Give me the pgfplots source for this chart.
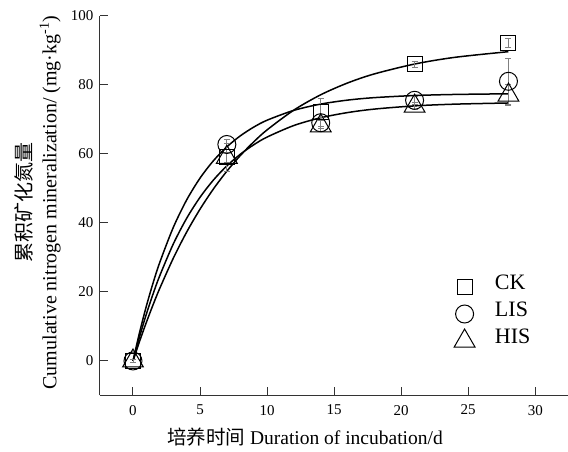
\documentclass[border=0pt]{standalone}
\usepackage{pgfplots}
\pgfplotsset{compat=1.18}
\usepackage{fontspec}
\setmainfont{Liberation Serif}
\newfontfamily\cjk{Noto Sans CJK SC}

\pgfplotstableread{
x y e
0 0 0.5
7 59 1.5
14 72 4
21 85.9 1
28 92.1 1.2
}\ckdata
\pgfplotstableread{
x y e
0 0 0.5
7 62.7 1.5
14 69 1.5
21 75.5 1.2
28 81 6.7
}\lisdata
\pgfplotstableread{
x y e
0 0 0.5
7 59 4
14 68.1 1.5
21 73.8 1
28 77 3
}\hisdata

\begin{document}
\begin{tikzpicture}
\useasboundingbox (0,0) rectangle (568pt,452pt);
\begin{axis}[
  at={(100pt,56.5pt)}, anchor=south west,
  width=468pt, height=379.8pt, scale only axis,
  xmin=-2.46, xmax=32.44, ymin=-10, ymax=100,
  axis x line=bottom, axis y line=left,
  axis line style={-, line width=1pt, black!80},
  xtick={0,5,...,30}, ytick={0,20,...,100},
  tick align=inside, major tick length=8pt,
  tick style={line width=1pt, black!80},
  /pgf/number format/assume math mode=true,
  ticklabel style={font=\fontsize{15}{16}\selectfont},
  xticklabel style={yshift=-6pt},
  yticklabel style={xshift=-3pt},
  xlabel={{\cjk 培养时间} Duration of incubation/d},
  xlabel style={at={(axis description cs:0.438,-0.109)}, anchor=center, font=\fontsize{19.5}{22}\selectfont},
  ylabel={{\cjk 累积矿化氮量}\\Cumulative nitrogen mineralization/ (mg·kg\textsuperscript{-1})},
  ylabel style={at={(axis description cs:-0.1335,0.508)}, anchor=center, rotate=0, align=center, font=\fontsize{20}{25}\selectfont},
  legend style={draw=none, fill=none, at={(0.75,0.327)}, anchor=north west,
    font=\fontsize{22}{26}\selectfont, row sep=0pt,
    nodes={inner ysep=0pt, text height=16pt, text depth=11pt},
    /tikz/every odd column/.append style={column sep=18pt}},
  legend cell align=left,
  legend image code/.code={\draw[#1] plot coordinates {(0.3cm,0cm)};},
  error bars/y dir=both, error bars/y explicit,
  error bars/error bar style={black!50, line width=0.8pt},
  error bars/error mark options={rotate=90, mark size=3pt, black!50, line width=0.8pt},
]
% fitted curves
\addplot[smooth, line width=1.5pt, black, forget plot] coordinates {
(0,0) (0.5,5.79) (1,11.21) (1.5,16.30) (2,21.06) (3,29.71) (4,37.31) (5,43.97) (6,49.83) (7,54.97) (8,59.48) (9,63.44) (10,66.93) (12,72.67) (14,77.10) (16,80.51) (18,83.14) (21,86.00) (24,87.94) (28,89.58)};
\addplot[smooth, line width=1.5pt, black, forget plot] coordinates {
(0,0) (0.5,8.42) (1,15.93) (1.5,22.61) (2,28.57) (3,38.63) (4,46.62) (5,52.96) (6,58.00) (7,62.01) (8,65.19) (9,67.72) (10,69.73) (12,72.59) (14,74.40) (16,75.55) (18,76.27) (21,76.88) (24,77.19) (28,77.38)};
\addplot[smooth, line width=1.5pt, black, forget plot] coordinates {
(0,0) (0.5,7.14) (1,13.60) (1.5,19.44) (2,24.73) (3,33.84) (4,41.30) (5,47.41) (6,52.41) (7,56.51) (8,59.86) (9,62.60) (10,64.85) (12,68.20) (14,70.44) (16,71.94) (18,72.95) (21,73.88) (24,74.38) (28,74.72)};
% data
\addplot[only marks, mark=square, mark size=7.5pt, mark options={black, line width=1pt}] table[x=x, y=y, y error=e] {\ckdata};
\addlegendentry{CK}
\addplot[only marks, mark=o, mark size=9pt, mark options={black, line width=1pt}] table[x=x, y=y, y error=e] {\lisdata};
\addlegendentry{LIS}
\addplot[only marks, mark=triangle, mark size=12pt, mark options={black, line width=1pt}] table[x=x, y=y, y error=e] {\hisdata};
\addlegendentry{HIS}
\end{axis}
\end{tikzpicture}
\end{document}
